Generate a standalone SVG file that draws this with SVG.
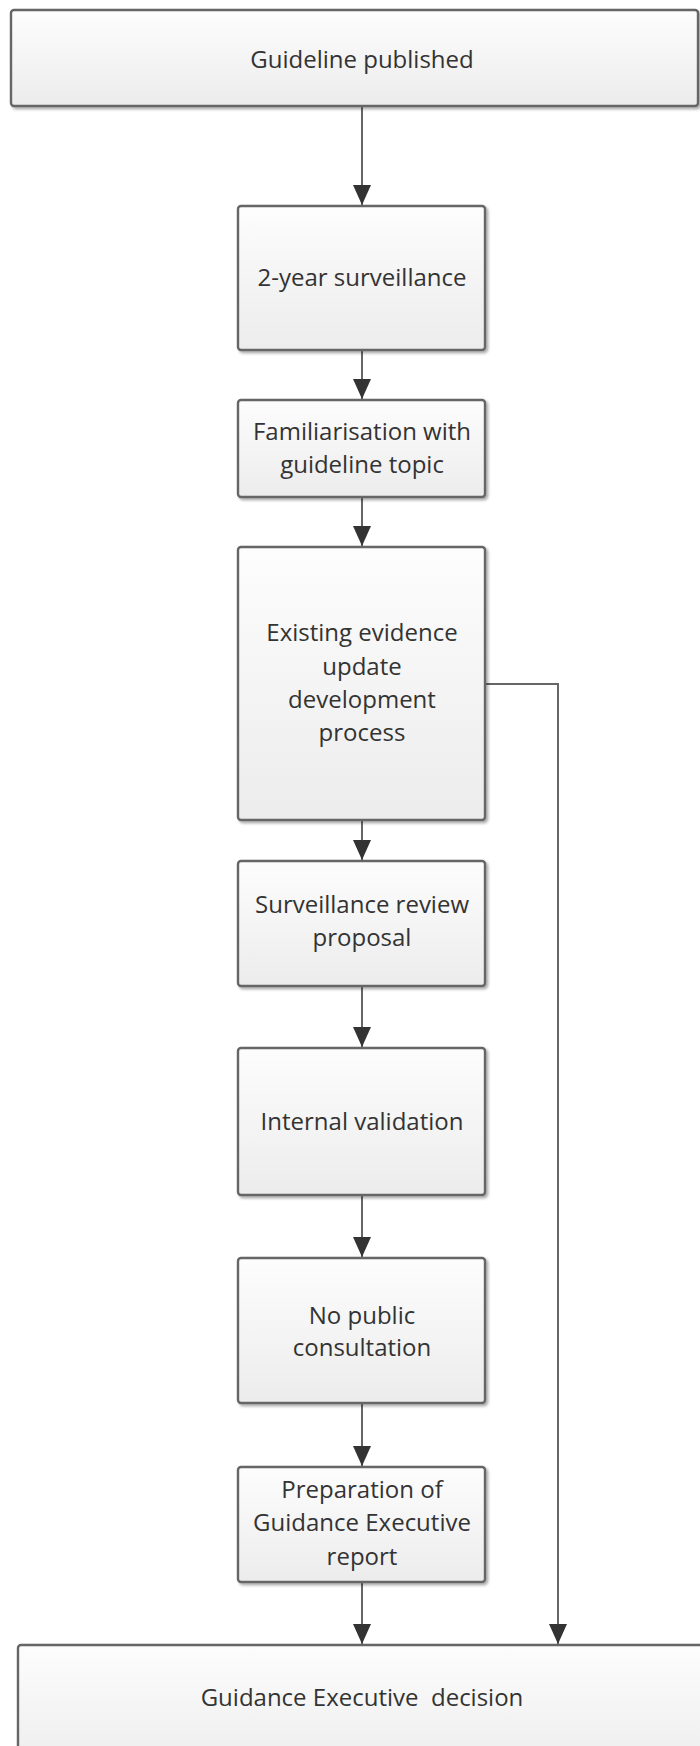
<svg xmlns="http://www.w3.org/2000/svg" width="700" height="1746" viewBox="0 0 700 1746">
<defs>
<linearGradient id="g" x1="0" y1="0" x2="0" y2="1">
<stop offset="0" stop-color="#fdfdfd"/>
<stop offset="1" stop-color="#ececec"/>
</linearGradient>
<filter id="sh" x="-5%" y="-5%" width="115%" height="115%">
<feGaussianBlur in="SourceAlpha" stdDeviation="1.5"/>
<feOffset dx="2" dy="2" result="b"/>
<feComponentTransfer><feFuncA type="linear" slope="0.35"/></feComponentTransfer>
<feMerge><feMergeNode/><feMergeNode in="SourceGraphic"/></feMerge>
</filter>
<marker id="ar" markerWidth="20" markerHeight="18" viewBox="0 0 20 18" refX="20" refY="9" orient="auto" markerUnits="userSpaceOnUse">
<path d="M0,0 L20,9 L0,18 Z" fill="#333"/>
</marker>
</defs>
<style>
.box{fill:url(#g);stroke:#666;stroke-width:2.4;filter:url(#sh)}
.t{font-family:"Open Sans","Liberation Sans",sans-serif;font-size:24px;fill:#333;text-anchor:middle}
.c{fill:none;stroke:#666;stroke-width:2}
</style>
<rect width="700" height="1746" fill="#ffffff"/>
<g id="connectors">
<line class="c" x1="362" y1="107" x2="362" y2="205" marker-end="url(#ar)"/>
<line class="c" x1="362" y1="351" x2="362" y2="399" marker-end="url(#ar)"/>
<line class="c" x1="362" y1="498" x2="362" y2="546" marker-end="url(#ar)"/>
<line class="c" x1="362" y1="821" x2="362" y2="860" marker-end="url(#ar)"/>
<line class="c" x1="362" y1="987" x2="362" y2="1047" marker-end="url(#ar)"/>
<line class="c" x1="362" y1="1196" x2="362" y2="1257" marker-end="url(#ar)"/>
<line class="c" x1="362" y1="1404" x2="362" y2="1466" marker-end="url(#ar)"/>
<line class="c" x1="362" y1="1583" x2="362" y2="1644" marker-end="url(#ar)"/>
<polyline class="c" points="486,684 558,684 558,1644" marker-end="url(#ar)"/>
</g>
<g id="n1"><rect class="box" x="11" y="10" width="687" height="96" rx="3"/><text class="t" x="362" y="68">Guideline published</text></g>
<g id="n2"><rect class="box" x="238" y="206" width="247" height="144" rx="3"/><text class="t" x="362" y="286">2-year surveillance</text></g>
<g id="n3"><rect class="box" x="238" y="400" width="247" height="97" rx="3"/><text class="t" x="362" y="440">Familiarisation with</text><text class="t" x="362" y="473">guideline topic</text></g>
<g id="n4"><rect class="box" x="238" y="547" width="247" height="273" rx="3"/><text class="t" x="362" y="641">Existing evidence</text><text class="t" x="362" y="675">update</text><text class="t" x="362" y="708">development</text><text class="t" x="362" y="741">process</text></g>
<g id="n5"><rect class="box" x="238" y="861" width="247" height="125" rx="3"/><text class="t" x="362" y="913">Surveillance review</text><text class="t" x="362" y="946">proposal</text></g>
<g id="n6"><rect class="box" x="238" y="1048" width="247" height="147" rx="3"/><text class="t" x="362" y="1130">Internal validation</text></g>
<g id="n7"><rect class="box" x="238" y="1258" width="247" height="145" rx="3"/><text class="t" x="362" y="1324">No public</text><text class="t" x="362" y="1356">consultation</text></g>
<g id="n8"><rect class="box" x="238" y="1467" width="247" height="115" rx="3"/><text class="t" x="362" y="1498">Preparation of</text><text class="t" x="362" y="1531">Guidance Executive</text><text class="t" x="362" y="1565">report</text></g>
<g id="n9"><rect class="box" x="18" y="1645" width="700" height="130" rx="3"/><text class="t" x="362" y="1706" xml:space="preserve">Guidance Executive  decision</text></g>
</svg>
